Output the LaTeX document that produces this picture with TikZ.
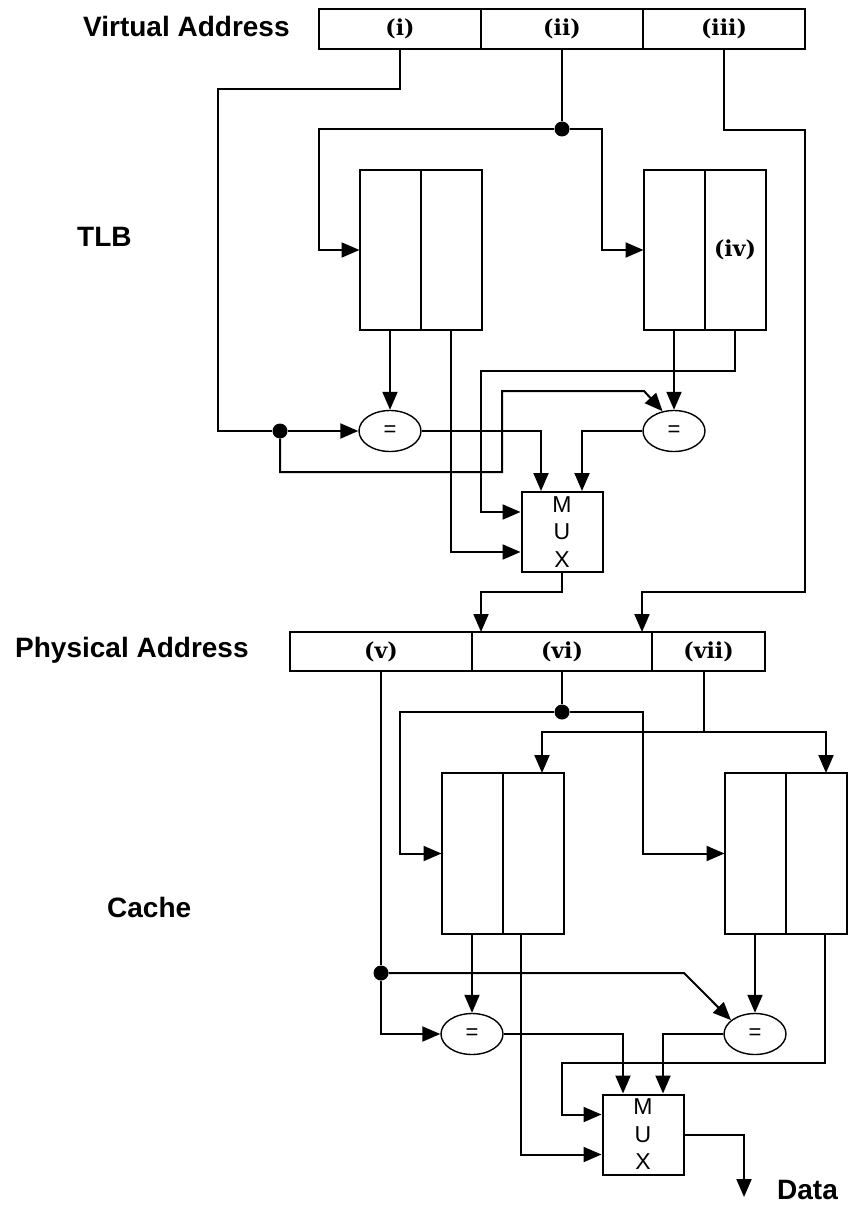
\documentclass[tikz,border=0pt]{standalone}
\usepackage{fontspec}
\newfontfamily\sanslbl{Liberation Sans}
\newfontfamily\seriflbl{DejaVu Serif}
\usetikzlibrary{arrows.meta, calc, positioning, shapes.geometric}

\begin{document}
\begin{tikzpicture}[x = 1pt, y = -1pt,
		wire/.style = {line width = 2pt},
		arr/.style = {wire, -{Triangle[length = 18pt, width = 15pt]}},
		field/.style = {draw, line width = 2pt, minimum height = 40pt, inner sep = 0pt, outer sep = 0pt, font = \seriflbl\bfseries\fontsize{22}{22}\selectfont},
		column/.style = {draw, line width = 2pt, minimum width = 61pt, minimum height = 160pt, inner sep = 0pt, outer sep = 0pt, font = \seriflbl\bfseries\fontsize{22}{22}\selectfont},
		compare/.style = {draw, ellipse, line width = 1.4pt, minimum width = 62pt, minimum height = 41pt, inner sep = 0pt, font = \sanslbl\fontsize{22}{22}\selectfont},
		mux/.style = {draw, line width = 2pt, minimum width = 81pt, minimum height = 80pt, inner sep = 0pt, align = center, font = \sanslbl\fontsize{23}{27.5}\selectfont},
		junction/.style = {circle, fill, inner sep = 0pt, minimum size = 15pt},
		heading/.style = {anchor = base west, inner sep = 0pt, font = \sanslbl\bfseries\fontsize{28}{30}\selectfont}]
	\useasboundingbox (0,0) rectangle (848,1206);

	\node[heading] (vatitle) at (83,37) {Virtual Address};
	\node[field, minimum width = 162pt] (va1) at (400,29) {(i)};
	\node[field, minimum width = 162pt, right = 0pt of va1] (va2) {(ii)};
	\node[field, minimum width = 162pt, right = 0pt of va2] (va3) {(iii)};

	\node[heading] (tlbtitle) at (77,247) {TLB};
	\node[column] (t1a) at (390,250) {};
	\node[column, right = 0pt of t1a] (t1b) {};
	\node[column] (t2a) at (674,250) {};
	\node[column, right = 0pt of t2a] (t2b) {(iv)};
	\node[compare] (eq1) at (390,431) {=};
	\node[compare] (eq2) at (674,431) {=};
	\node[mux] (mux1) at (562,532) {M\\U\\X};
	\node[junction] (d1) at (280,431) {};
	\node[junction] (d2) at (562,129) {};

	\node[heading] (patitle) at (15,657) {Physical Address};
	\node[field, minimum width = 182pt, minimum height = 39pt] (pa1) at (381,651.5) {(v)};
	\node[field, minimum width = 180pt, minimum height = 39pt, right = 0pt of pa1] (pa2) {(vi)};
	\node[field, minimum width = 113pt, minimum height = 39pt, right = 0pt of pa2] (pa3) {(vii)};

	\coordinate (i1) at (218,89);
	\coordinate (k1) at (319,250);
	\coordinate (k2) at (602,250);
	\coordinate (m1) at (805,130);
	\coordinate (m2) at (642,592);
	\coordinate (j1) at (502,472);
	\coordinate (j2) at (644,391);
	\coordinate (n1) at (481,371);
	\coordinate (p1) at (481,592);

	\draw[wire] (va1) |- (i1) |- (d1);
	\draw[arr] (d1) -- (eq1);
	\draw[arr] (d1) |- (j1) |- (j2) -- (eq2.120);
	\draw[wire] (va2) -- (d2);
	\draw[arr] (d2) -| (k1) -- (t1a);
	\draw[arr] (d2) -| (k2) -- (t2a);
	\draw[arr] (va3) |- (m1) |- (m2) -- (m2 |- pa2.north);
	\draw[arr] (t1a) -- (eq1);
	\draw[arr] (t1b) |- ($(mux1.west)+(0,20)$);
	\draw[arr] (t2a) -- (eq2);
	\draw[arr] (t2b) |- (n1) |- ($(mux1.west)+(0,-20)$);
	\draw[arr] (eq1) -| ($(mux1.north)+(-21,0)$);
	\draw[arr] (eq2) -| ($(mux1.north)+(20,0)$);
	\draw[arr] (mux1) |- (p1) -- (p1 |- pa2.north);

	\node[heading] (cachetitle) at (107,917) {Cache};
	\node[column, minimum height = 161pt] (c1a) at (472,853.5) {};
	\node[column, minimum height = 161pt, right = 0pt of c1a] (c1b) {};
	\node[column, minimum height = 161pt] (c2a) at (755,853.5) {};
	\node[column, minimum height = 161pt, right = 0pt of c2a] (c2b) {};
	\node[compare] (eq3) at (472,1034) {=};
	\node[compare] (eq4) at (755,1034) {=};
	\node[mux] (mux2) at (643,1134.5) {M\\U\\X};
	\node[junction] (d3) at (381,973) {};
	\node[junction] (d4) at (562,712) {};
	\node[heading] (datatitle) at (777,1199) {Data};

	\coordinate (r1) at (400,853.5);
	\coordinate (r2) at (643,853.5);
	\coordinate (s1) at (704,732);
	\coordinate (q1) at (684,973);
	\coordinate (u1) at (562,1063);
	\coordinate (dout) at (744,1197);

	\draw[wire] (pa1) -- (d3);
	\draw[arr] (d3) |- (eq3);
	\draw[arr] (d3) -- (q1) -- (eq4.150);
	\draw[wire] (pa2) -- (d4);
	\draw[arr] (d4) -| (r1) -- (c1a);
	\draw[arr] (d4) -| (r2) -- (c2a);
	\draw[wire] (s1 |- pa3.south) -- (s1);
	\draw[arr] (s1) -| ($(c1b.north)+(9,0)$);
	\draw[arr] (s1) -| ($(c2b.north)+(10,0)$);
	\draw[arr] (c1a) -- (eq3);
	\draw[arr] (c2a) -- (eq4);
	\draw[arr] ($(c1b.south)+(-12,0)$) |- ($(mux2.west)+(0,20)$);
	\draw[arr] ($(c2b.south)+(9,0)$) |- (u1) |- ($(mux2.west)+(0,-20)$);
	\draw[arr] (eq3) -| ($(mux2.north)+(-20,0)$);
	\draw[arr] (eq4) -| ($(mux2.north)+(20,0)$);
	\draw[arr] (mux2) -| (dout);
\end{tikzpicture}
\end{document}
